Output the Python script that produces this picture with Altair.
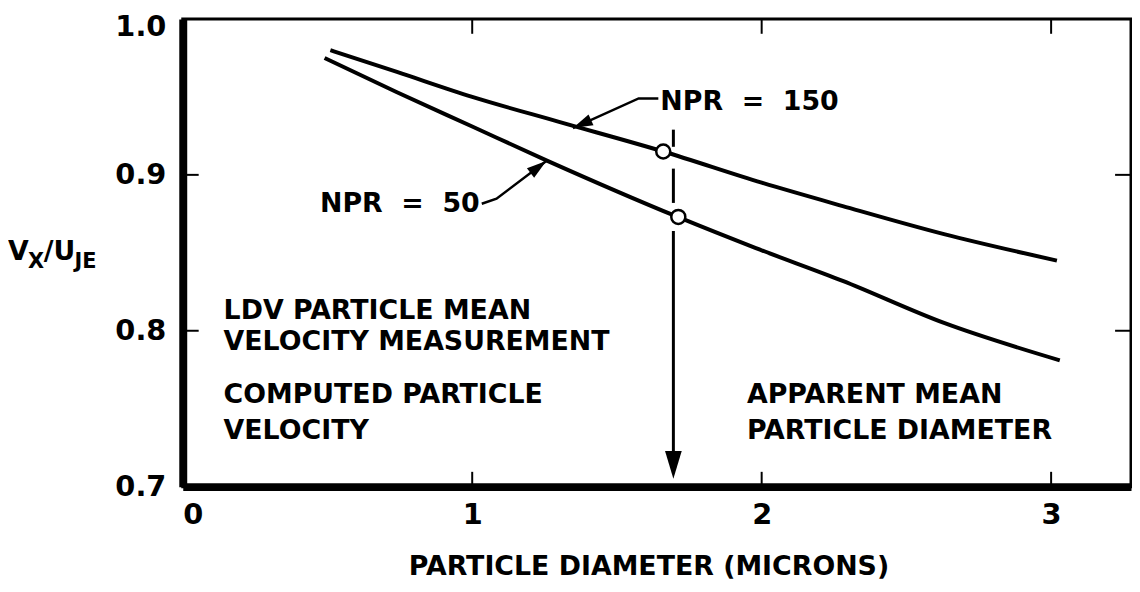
import altair as alt
import pandas as pd

# ---- data ----
npr150_x = [0.51, 0.74, 1.0, 1.3, 1.66, 2.0, 2.28, 2.63, 3.02]
npr150_y = [0.980, 0.966, 0.950, 0.934, 0.915, 0.895, 0.880, 0.862, 0.845]
npr50_x = [0.49, 0.74, 1.0, 1.26, 1.71, 1.98, 2.28, 2.63, 3.03]
npr50_y = [0.975, 0.953, 0.931, 0.909, 0.873, 0.853, 0.832, 0.805, 0.781]

circle_x = [1.66, 1.712]
circle_y = [0.915, 0.873]

x_ticks = [0, 1, 2, 3]
y_ticks = [0.7, 0.8, 0.9, 1.0]
x_inner_ticks = [1, 2, 3]
y_inner_ticks = [0.8, 0.9]

# vertical dashed indicator at apparent mean diameter
vline_x = 1.695
vline_y1 = [0.929, 0.904, 0.864]
vline_y2 = [0.918, 0.882, 0.712]

# annotation texts
note_text = ["LDV PARTICLE MEAN", "VELOCITY MEASUREMENT", "COMPUTED PARTICLE", "VELOCITY",
             "APPARENT MEAN", "PARTICLE DIAMETER",
             "NPR\u00a0\u00a0=\u00a0\u00a0150", "NPR\u00a0\u00a0=\u00a0\u00a050"]
note_x = [0.141, 0.141, 0.141, 0.141, 1.949, 1.949, 1.650, 0.474]
note_y = [0.8125, 0.7925, 0.7585, 0.7355, 0.7585, 0.7355, 0.947, 0.881]

# leader lines
lead150_x = [1.643, 1.575, 1.348]
lead150_y = [0.949, 0.949, 0.930]
lead50_x = [1.033, 1.084, 1.256]
lead50_y = [0.8815, 0.8847, 0.9089]

# arrowheads (tip position, direction angle)
arrow_x = [1.348, 1.256, 1.695]
arrow_y = [0.930, 0.9089, 0.705]
arrow_angle = [65.5, 232.7, 0]
arrow_size = [1600, 1600, 3136]

# y-axis title pieces: V_X / U_JE
ylab_text = ["V", "X", "/U", "JE"]
ylab_x = [-0.604, -0.535, -0.480, -0.374]
ylab_y = [0.8452, 0.8405, 0.8452, 0.8405]
ylab_size = [27, 21, 27, 21]

FONT = "'Liberation Sans Narrow', 'DejaVu Sans', sans-serif"
XMAX = 3.276
xs = alt.Scale(domain=[0, XMAX], nice=False, zero=False)
ys = alt.Scale(domain=[0.7, 1.0], nice=False, zero=False)

AX = alt.Axis(values=x_ticks, format="d", title="PARTICLE DIAMETER (MICRONS)",
              titleX=469, titleY=88, titleAlign="center", titleBaseline="alphabetic",
              titleFont=FONT, titleFontSize=27, titleFontWeight="bold", titleColor="black",
              labelPadding=14, domainWidth=8, domainColor="black", ticks=False,
              labelFont=FONT, labelFontSize=29, labelFontWeight="bold", labelColor="black",
              grid=False)
AY = alt.Axis(values=y_ticks, format=".1f", title=None, labelPadding=17, domainWidth=8,
              domainColor="black", ticks=False,
              labelOffset={"condition": {"test": "datum.value > 0.95", "value": 8}, "value": 0},
              labelFont=FONT, labelFontSize=29, labelFontWeight="bold", labelColor="black",
              grid=False)

def X():
    return alt.X("x:Q", scale=xs, axis=AX)

def Y():
    return alt.Y("y:Q", scale=ys, axis=AY)

curves = pd.DataFrame(
    {"x": npr150_x + npr50_x,
     "y": npr150_y + npr50_y,
     "s": ["150"] * len(npr150_x) + ["50"] * len(npr50_x)}
)

curve_layer = alt.Chart(curves).mark_line(color="black", strokeWidth=4, interpolate="monotone").encode(
    x=X(), y=Y(), detail="s:N")

# inward tick marks (frame)
tb = pd.DataFrame({"x": x_inner_ticks * 2,
                   "y": [0.7] * 3 + [1.0] * 3,
                   "y2": [0.7095] * 3 + [0.9905] * 3})
tick_x_layer = alt.Chart(tb).mark_rule(color="black", strokeWidth=2).encode(
    x=X(), y=Y(), y2="y2:Q")
tl = pd.DataFrame({"y": y_inner_ticks * 2,
                   "x": [0.0] * 2 + [XMAX] * 2,
                   "x2": [0.055] * 2 + [XMAX - 0.055] * 2})
tick_y_layer = alt.Chart(tl).mark_rule(color="black", strokeWidth=2).encode(
    x=X(), x2="x2:Q", y=Y())

vl = pd.DataFrame({"x": [vline_x] * 3, "y": vline_y1, "y2": vline_y2})
vline_layer = alt.Chart(vl).mark_rule(color="black", strokeWidth=3).encode(
    x=X(), y=Y(), y2="y2:Q")

circ = pd.DataFrame({"x": circle_x, "y": circle_y})
circ_layer = alt.Chart(circ).mark_point(shape="circle", size=200, filled=True, fill="white",
                                        stroke="black", strokeWidth=2.5, opacity=1).encode(x=X(), y=Y())

leaders = pd.DataFrame({"x": lead150_x + lead50_x, "y": lead150_y + lead50_y,
                        "g": ["a"] * 3 + ["b"] * 3, "o": list(range(6))})
lead_layer = alt.Chart(leaders).mark_line(color="black", strokeWidth=2.5).encode(
    x=X(), y=Y(), detail="g:N", order="o:Q")

arr = pd.DataFrame({"x": arrow_x, "y": arrow_y, "a": arrow_angle, "sz": arrow_size})
arrow_layer = alt.Chart(arr).mark_point(shape="M0,0 L-0.3,-1 L0.3,-1 Z", filled=True,
                                        color="black", opacity=1).encode(
    x=X(), y=Y(), angle=alt.Angle("a:Q", scale=None), size=alt.Size("sz:Q", scale=None))

notes = pd.DataFrame({"t": note_text, "x": note_x, "y": note_y})
note_layer = alt.Chart(notes).mark_text(font=FONT, fontSize=27, fontWeight="bold", color="black",
                                        align="left", baseline="middle").encode(
    x=X(), y=Y(), text="t:N")

yl = pd.DataFrame({"t": ylab_text, "x": ylab_x, "y": ylab_y, "fs": ylab_size})
ylab_layer = alt.Chart(yl).mark_text(font=FONT, fontWeight="bold", color="black",
                                     align="left", baseline="alphabetic").encode(
    x=X(), y=Y(), text="t:N", size=alt.Size("fs:Q", scale=None))

chart = alt.layer(
    curve_layer, tick_x_layer, tick_y_layer, vline_layer, lead_layer, arrow_layer,
    circ_layer, note_layer, ylab_layer
).properties(
    width=955, height=471,
    autosize=alt.AutoSizeParams(type="none"),
    padding={"left": 176, "top": 9, "right": 1, "bottom": 96},
).configure_view(
    stroke="black", strokeWidth=3
)

chart.save("out.html", embed_options={"renderer": "svg", "actions": False})
